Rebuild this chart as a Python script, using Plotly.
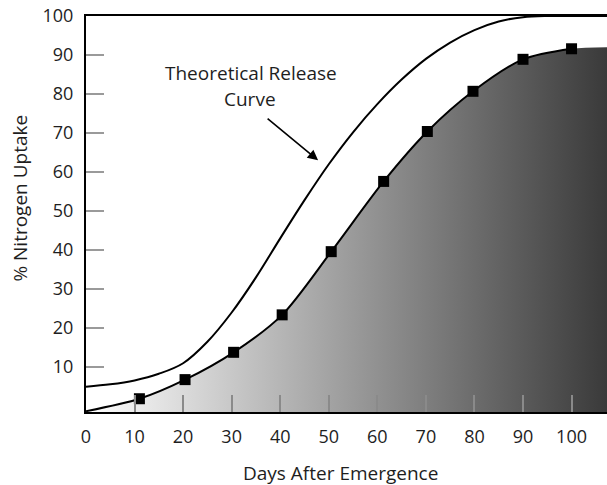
import plotly.graph_objects as go

# Measured uptake (squares)
days = [11, 20.4, 30.4, 40.4, 50.5, 61.3, 70.3, 79.7, 90, 100]
uptake = [1.9, 6.8, 13.8, 23.4, 39.6, 57.6, 70.4, 80.7, 88.9, 91.6]
# curve start and continued plateau
curve_start_day, curve_start_pct = 0, -1.3
plateau_day, plateau_pct = 107.3, 92

# Theoretical release curve
theo_days = [0, 5, 10, 15, 20, 25, 30, 35, 40, 45, 50, 55, 60, 65, 70, 75, 80, 85, 90, 95, 100, 107.3]
theo_pct = [5, 5.6, 6.6, 8.3, 11, 16.5, 24, 33, 43, 52.8, 62, 70.2, 77.4, 83.7, 89, 93.2, 96.4, 98.6, 99.7, 100, 100, 100]

x_ticks = [0, 10, 20, 30, 40, 50, 60, 70, 80, 90, 100]
y_ticks = [10, 20, 30, 40, 50, 60, 70, 80, 90, 100]

FONT = "Open Sans"
TXT = "#1e1e1e"
YMIN = -1.5

curve_x = [curve_start_day] + days
curve_y = [curve_start_pct] + uptake

fig = go.Figure()
fig.add_trace(go.Scatter(x=[0, plateau_day], y=[YMIN, YMIN], mode="lines",
                         line=dict(width=0), hoverinfo="skip", showlegend=False))
fig.add_trace(go.Scatter(x=curve_x + [plateau_day], y=curve_y + [plateau_pct],
                         mode="lines", line=dict(width=0, shape="spline", smoothing=0.8),
                         fill="tonexty",
                         fillgradient=dict(type="horizontal",
                                           colorscale=[[0, "#ffffff"], [1, "#3a3a3a"]],
                                           start=0, stop=plateau_day),
                         hoverinfo="skip", showlegend=False))
fig.add_trace(go.Scatter(x=theo_days, y=theo_pct, mode="lines",
                         line=dict(color="black", width=2, shape="spline", smoothing=1.0),
                         showlegend=False))
fig.add_trace(go.Scatter(x=curve_x, y=curve_y, mode="lines",
                         line=dict(color="black", width=2, shape="spline", smoothing=0.8),
                         showlegend=False))
fig.add_trace(go.Scatter(x=days, y=uptake, mode="markers",
                         marker=dict(symbol="square", size=11, color="black"),
                         showlegend=False))

fig.update_xaxes(range=[0, plateau_day], tickvals=x_ticks, automargin=False,
                 ticks="inside", ticklen=17, tickwidth=2, tickcolor="#8a8a8a",
                 showline=True, linecolor="black", linewidth=2, mirror=True,
                 showgrid=False, zeroline=False, ticklabelstandoff=7,
                 tickfont=dict(family=FONT, size=18, color=TXT))
fig.update_yaxes(range=[YMIN, 100], tickvals=y_ticks, automargin=False,
                 ticks="inside", ticklen=18, tickwidth=2, tickcolor="#9a9a9a",
                 showline=True, linecolor="black", linewidth=2,
                 showgrid=False, zeroline=False, ticklabelstandoff=7,
                 tickfont=dict(family=FONT, size=18, color=TXT))

fig.add_annotation(x=34.0, y=85.4, text="Theoretical Release", showarrow=False,
                   font=dict(family=FONT, size=19, color=TXT))
fig.add_annotation(x=33.8, y=78.6, text="Curve", showarrow=False,
                   font=dict(family=FONT, size=19, color=TXT))
fig.add_annotation(x=47.8, y=63.0, ax=-52, ay=-43, text="", showarrow=True,
                   arrowhead=2, arrowsize=1.3, arrowwidth=1.6, arrowcolor="black")

fig.add_annotation(xref="paper", yref="paper", x=0.488, y=-0.155,
                   xanchor="center", yanchor="middle",
                   text="Days After Emergence", showarrow=False,
                   font=dict(family=FONT, size=19, color=TXT))
fig.add_annotation(xref="paper", yref="paper", x=-0.127, y=0.541,
                   xanchor="center", yanchor="middle",
                   text="% Nitrogen Uptake", showarrow=False, textangle=-90,
                   font=dict(family=FONT, size=19, color=TXT))

fig.update_layout(width=607, height=485,
                  margin=dict(l=86, r=0, t=16, b=73),
                  plot_bgcolor="white", paper_bgcolor="white")

fig.write_html("out.html", config={"displayModeBar": False},
               post_script="document.body.style.margin='0';document.body.style.overflow='hidden';")
